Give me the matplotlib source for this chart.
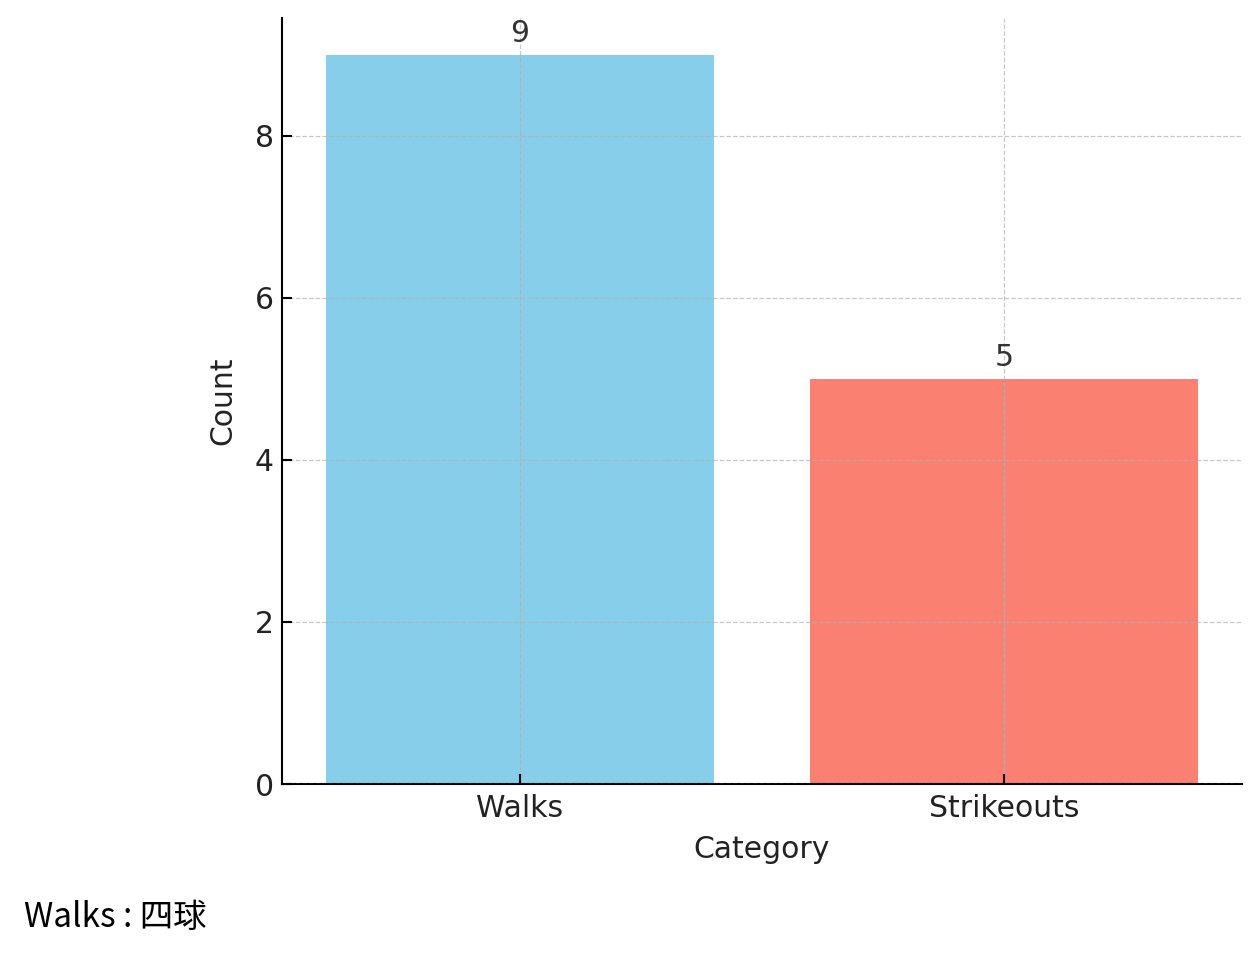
import matplotlib.pyplot as plt

plt.rcParams['font.family'] = ['DejaVu Sans']

# data
categorias = ['Walks', 'Strikeouts']
conteos = [9, 5]
colores = ['#87CEEB', '#FA8072']
nota = 'Walks : 四球'

fig = plt.figure(figsize=(12.6, 9.64), dpi=100)
ax = fig.add_axes([0.2238, 0.1867, 0.7619, 0.7946])

barras = ax.bar(categorias, conteos, color=colores, width=0.8, zorder=0.5)
for b, v in zip(barras, conteos):
    ax.text(b.get_x() + b.get_width() / 2, v + 0.08, str(v),
            ha='center', va='bottom', fontsize=21.5, color='#333333')

ax.set_xlabel('Category', fontsize=21.5, color='#222222', labelpad=8)
ax.set_ylabel('Count', fontsize=21.5, color='#222222', labelpad=12)
ax.tick_params(axis='both', labelsize=21.5, labelcolor='#222222',
               direction='in', length=7, width=1.5, pad=6)
ax.tick_params(axis='x', pad=7.5)

# limpieza de bordes
ax.spines['top'].set_visible(False)
ax.spines['right'].set_visible(False)
ax.spines['left'].set_linewidth(1.5)
ax.spines['bottom'].set_linewidth(1.5)

ax.grid(True, linestyle='--', color='#b0b0b0', alpha=0.7, linewidth=0.9, zorder=2)
ax.set_axisbelow(False)

fig.text(24 / 1260, 1 - 917 / 964, nota, fontsize=24, va='center', ha='left',
         family=['Noto Sans CJK JP', 'DejaVu Sans'], color='black')

fig.savefig('out.png', dpi=100)
